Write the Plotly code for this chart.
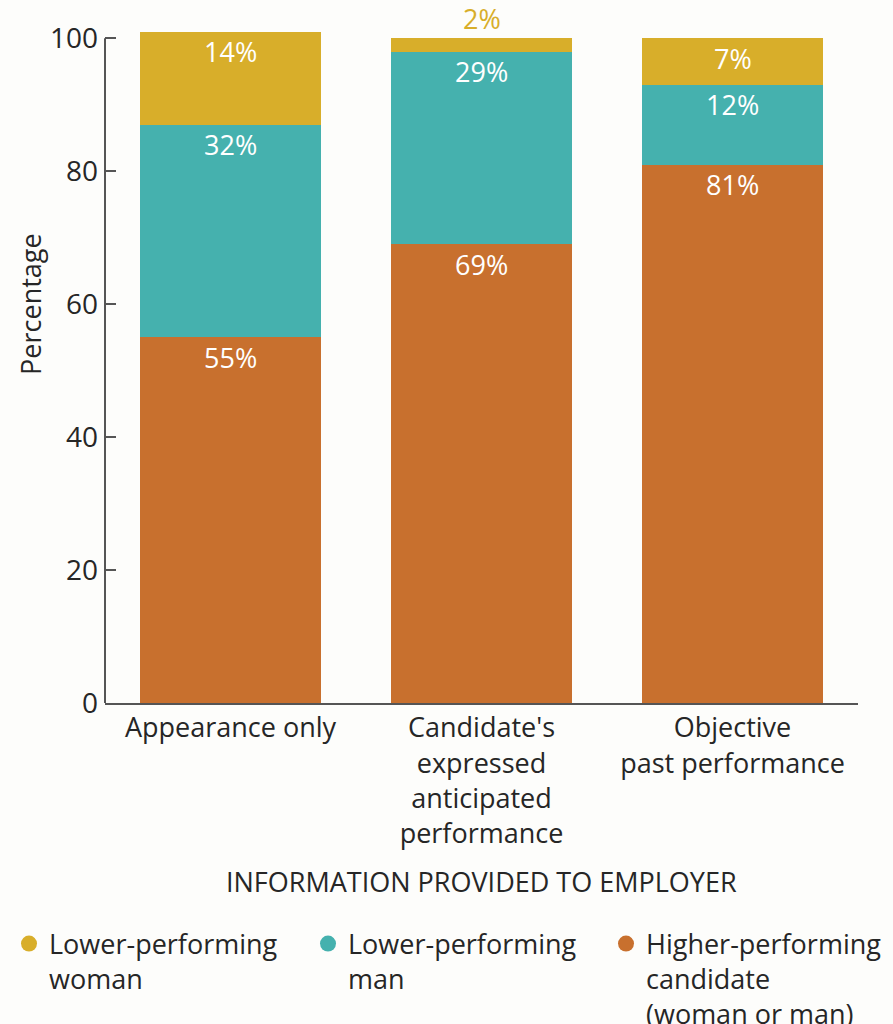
import plotly.graph_objects as go

# Share of employers choosing each candidate, by information provided
categories = ["Appearance only",
              "Candidate's<br>expressed<br>anticipated<br>performance",
              "Objective<br>past performance"]
higher_performing = [55, 69, 81]
lower_man = [32, 29, 12]
lower_woman = [14, 2, 7]

series_names = ["Lower-performing<br>woman",
                "Lower-performing<br>man",
                "Higher-performing<br>candidate<br>(woman or man)"]

YELLOW = "#D8AE2A"
TEAL = "#45B1AE"
ORANGE = "#C8702E"
TEXT = "#262626"
AXIS = "#555555"
BG = "#FDFDFB"
FONT = "Open Sans"

fig = go.Figure()

# stacked bars, bottom to top
stack = [(higher_performing, ORANGE), (lower_man, TEAL), (lower_woman, YELLOW)]
for vals, col in stack:
    fig.add_trace(go.Bar(x=categories, y=vals, marker=dict(color=col, line=dict(width=0)),
                         width=0.72, showlegend=False, hoverinfo="skip"))

# one legend per series so each column sits at its own position
legend_ids = ["legend", "legend2", "legend3"]
legend_x = [9, 308, 606]
for name, col, lid in zip(series_names, [YELLOW, TEAL, ORANGE], legend_ids):
    fig.add_trace(go.Scatter(x=[categories[0]], y=[None], mode="markers", name=name,
                             legend=lid, hoverinfo="skip",
                             marker=dict(symbol="circle", size=20, color=col)))

# percentage labels near the top of each segment
for i, cat in enumerate(categories):
    base = 0
    for vals, col in stack:
        v = vals[i]
        top = base + v
        if v >= 5:
            fig.add_annotation(x=cat, y=top, text=f"{v}%", showarrow=False,
                               yanchor="middle", yshift=-20,
                               font=dict(family=FONT, size=27, color="white"))
        else:
            fig.add_annotation(x=cat, y=top, text=f"{v}%", showarrow=False,
                               yanchor="middle", yshift=20,
                               font=dict(family=FONT, size=27, color=col))
        base = top

# vertical axis line drawn up to 100
fig.add_shape(type="line", xref="paper", yref="y", x0=0, x1=0, y0=0, y1=100,
              line=dict(color=AXIS, width=2))

# axis titles
fig.add_annotation(xref="paper", yref="paper", x=0.5, y=-0.293,
                   text="INFORMATION PROVIDED TO EMPLOYER", showarrow=False,
                   font=dict(family=FONT, size=27, color=TEXT))
fig.add_annotation(xref="paper", yref="y", x=-0.1, y=60, xanchor="center",
                   text="Percentage", textangle=-90, showarrow=False,
                   font=dict(family=FONT, size=27, color=TEXT))

legend_common = dict(orientation="v", xref="container", yref="container",
                     y=0.102, xanchor="left", yanchor="top", valign="top",
                     font=dict(family=FONT, size=27, color=TEXT),
                     bgcolor="rgba(0,0,0,0)")

fig.update_layout(
    width=893, height=1024,
    margin=dict(l=105, r=35, t=25, b=321, autoexpand=False),
    paper_bgcolor=BG, plot_bgcolor=BG,
    barmode="stack", bargap=0.28,
    font=dict(family=FONT, size=27, color=TEXT),
    xaxis=dict(showline=True, linecolor=AXIS, linewidth=2, ticks="",
               showgrid=False, zeroline=False, automargin=False,
               range=[-0.5, 2.5],
               tickfont=dict(family=FONT, size=27, color=TEXT)),
    yaxis=dict(range=[0, 102], tickvals=[0, 20, 40, 60, 80, 100],
               ticks="inside", ticklen=11, tickwidth=2, tickcolor=AXIS,
               showline=False, showgrid=False, zeroline=False, automargin=False,
               ticklabelstandoff=6,
               tickfont=dict(family=FONT, size=28, color=TEXT)),
    legend=dict(x=legend_x[0] / 893, **legend_common),
    legend2=dict(x=legend_x[1] / 893, **legend_common),
    legend3=dict(x=legend_x[2] / 893, **legend_common),
)

fig.write_html("out.html")
